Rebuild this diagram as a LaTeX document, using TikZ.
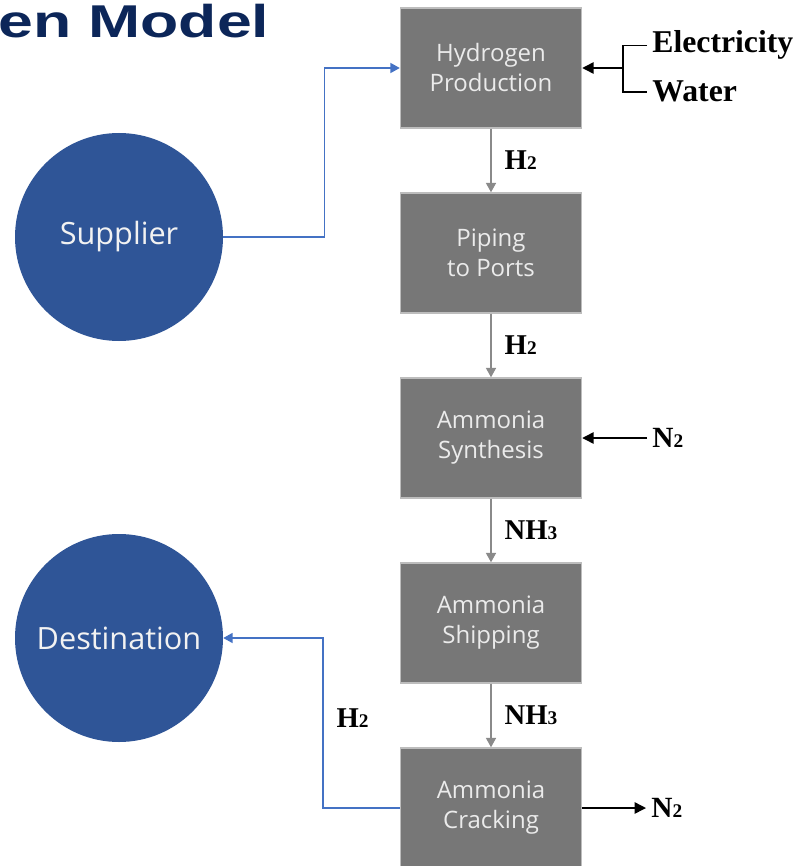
\documentclass[tikz,border=0pt]{standalone}
\usepackage{fontspec}
\setmainfont{Open Sans}
\newfontfamily\labelfont{Liberation Serif}
\newfontfamily\titlefont{Liberation Sans}
\usetikzlibrary{arrows.meta}
\definecolor{stagefill}{HTML}{777777}
\definecolor{stageedge}{HTML}{BDBDBD}
\definecolor{flowgray}{HTML}{8A8A8A}
\definecolor{placeblue}{HTML}{2F5597}
\definecolor{lineblue}{HTML}{4472C4}
\definecolor{titleblue}{HTML}{0C2659}
\newcommand{\chemsub}[1]{{\fontsize{14.5pt}{14.5pt}\selectfont #1}}
\tikzset{
  stage/.style={draw=stageedge, line width=1.1pt, fill=stagefill, text=white!92!black,
    minimum width=135.75pt, minimum height=90pt, align=center,
    font=\fontsize{18pt}{22.5pt}\selectfont},
  place/.style={circle, fill=placeblue, text=white!95!black, minimum size=156pt,
    inner sep=0, font=\fontsize{23pt}{28pt}\selectfont},
  side/.style={inner sep=0, outer sep=4pt, font=\labelfont\bfseries\fontsize{22pt}{26pt}\selectfont},
  source/.style={side, font=\labelfont\bfseries\fontsize{23.8pt}{28pt}\selectfont},
  flowlbl/.style={anchor=west, inner sep=0, xshift=9.75pt,
    font=\labelfont\bfseries\fontsize{21.5pt}{26pt}\selectfont},
  chain/.style={draw=flowgray, line width=1.1pt, -{Triangle[length=7pt,width=7.5pt]}},
  supply/.style={draw=lineblue, line width=1.1pt, -{Triangle[length=7pt,width=7.5pt]}},
  blackflow/.style={draw=black, line width=1.1pt, -{Triangle[length=8.5pt,width=8.5pt]}},
  plain/.style={draw=black, line width=1.1pt}
}
\begin{document}
\begin{tikzpicture}[x=0.75pt,y=-0.75pt]
  \useasboundingbox (0,0) rectangle (797,866);
  % title
  \node[anchor=base west, inner sep=0, text=titleblue,
    font=\titlefont\bfseries\fontsize{34.5pt}{40pt}\selectfont] (ttl) at (-2,38)
    {\scalebox{1.36}[1]{en Model}};
  % process chain
  \node[stage] (prod) at (491,68) {Hydrogen\\Production};
  \node[stage] (pipe) at (491,253) {Piping\\to Ports};
  \node[stage] (synth) at (491,438) {Ammonia\\Synthesis};
  \node[stage] (ship) at (491,623) {Ammonia\\Shipping};
  \node[stage] (crack) at (491,808) {Ammonia\\Cracking};
  % end points
  \node[place] (sup) at (119,237) {Supplier};
  \node[place] (dest) at (119,638) {Destination};
  % inputs and outputs
  \node[source, anchor=base west] (elec) at (647,53) {Electricity};
  \node[source, anchor=base west] (water) at (647,102) {Water};
  \coordinate (fork) at (623,68);
  \node[side, anchor=west] (nin) at (647,438) {N\chemsub{2}};
  \node[side, anchor=west] (nout) at (646,808) {N\chemsub{2}};
  % flows
  \draw[chain] (prod) -- node[flowlbl] {H\chemsub{2}} (pipe);
  \draw[chain] (pipe) -- node[flowlbl] {H\chemsub{2}} (synth);
  \draw[chain] (synth) -- node[flowlbl] {NH\chemsub{3}} (ship);
  \draw[chain] (ship) -- node[flowlbl] {NH\chemsub{3}} (crack);
  \draw[supply] (sup.east) -- ++(101,0) |- (prod.west);
  \draw[supply] (crack.west) -- ++(-77,0) |- node[flowlbl, pos=0.265] {H\chemsub{2}} (dest.east);
  \draw[plain] (elec.west) -| (fork) |- (water.west);
  \draw[blackflow] (fork) -- (prod.east);
  \draw[blackflow] (nin.west) -- (synth.east);
  \draw[blackflow] (crack.east) -- (nout.west);
\end{tikzpicture}
\end{document}
